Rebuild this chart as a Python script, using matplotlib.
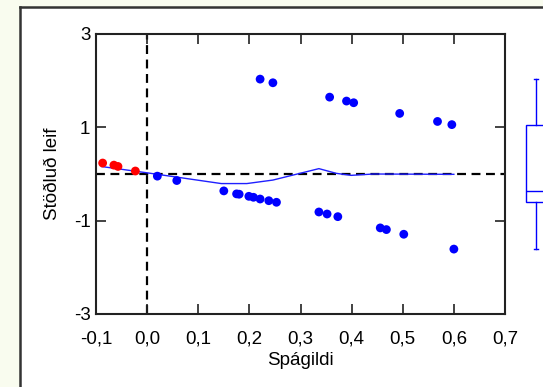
import numpy as np
import matplotlib
matplotlib.use('Agg')
import matplotlib.pyplot as plt
import matplotlib.transforms as mtransforms

plt.rcParams['font.family'] = ['Liberation Sans', 'DejaVu Sans']

# Fitted values and standardized residuals
red_x = [-0.087, -0.065, -0.057, -0.023]
red_y = [0.235, 0.19, 0.162, 0.064]

blue_x = [0.020, 0.058, 0.150, 0.175, 0.180, 0.199, 0.208, 0.221, 0.238, 0.253,
          0.336, 0.352, 0.373, 0.456, 0.468, 0.502, 0.600,
          0.221, 0.246, 0.357, 0.390, 0.404, 0.494, 0.568, 0.596]
blue_y = [-0.046, -0.140, -0.362, -0.426, -0.433, -0.478, -0.499, -0.536, -0.572, -0.606,
          -0.814, -0.857, -0.914, -1.155, -1.191, -1.291, -1.609,
          2.033, 1.955, 1.647, 1.563, 1.527, 1.298, 1.126, 1.058]

# smoother line
smooth_x = [-0.089, 0.0, 0.145, 0.195, 0.246, 0.336, 0.37, 0.399, 0.443, 0.600]
smooth_y = [0.16, 0.025, -0.205, -0.205, -0.13, 0.115, 0.014, -0.029, 0.0, -0.007]

xticks = [-0.1, 0.0, 0.1, 0.2, 0.3, 0.4, 0.5, 0.6, 0.7]
xtick_labels = ['-0,1', '0,0', '0,1', '0,2', '0,3', '0,4', '0,5', '0,6', '0,7']
yticks = [3, 1, -1, -3]
ytick_labels = ['3', '1', '-1', '-3']

W, H = 543, 387
fig = plt.figure(figsize=(W / 100, H / 100), dpi=100, facecolor='#F9FCEF')

# white panel with dark border (extends past right and bottom edges)
bg = fig.add_axes([20 / W, -0.05, 1.0, 1.05 - 7 / H], zorder=-1)
bg.set_xticks([])
bg.set_yticks([])
for s in bg.spines.values():
    s.set_linewidth(1.8)
    s.set_color('#333333')

ax = fig.add_axes([96 / W, 1 - 314 / H, (505 - 96) / W, (314 - 34) / H])

ax.axhline(0, color='black', ls=(0, (4, 2.5)), lw=1.6, zorder=1)
ax.axvline(0, color='black', ls=(0, (4, 2.5)), lw=1.6, zorder=1)
ax.plot(smooth_x, smooth_y, color='#2020FF', lw=1.0, zorder=2)
ax.scatter(red_x, red_y, s=40, color='#FF0000', edgecolors='none', zorder=3)
ax.scatter(blue_x, blue_y, s=40, color='#0000FF', edgecolors='none', zorder=3)

ax.set_xlim(-0.1, 0.7)
ax.set_ylim(-3, 3)
ax.set_xticks(xticks)
ax.set_xticklabels(xtick_labels)
ax.set_yticks(yticks)
ax.set_yticklabels(ytick_labels)
ax.tick_params(axis='x', direction='in', length=0, labelsize=13.5, pad=12)
ax.tick_params(axis='y', direction='in', length=0, labelsize=13.5, pad=4)

# inward tick marks on all four sides (about 10 px long)
tx = mtransforms.blended_transform_factory(ax.transData, ax.transAxes)
ty = mtransforms.blended_transform_factory(ax.transAxes, ax.transData)
ax.vlines(xticks, 0, 10 / 280, transform=tx, color='#222222', lw=1.2, zorder=4)
ax.vlines(xticks, 1 - 10 / 280, 1, transform=tx, color='#222222', lw=1.2, zorder=4)
ax.hlines(yticks, 0, 10 / 409, transform=ty, color='#222222', lw=1.2, zorder=4)
ax.hlines(yticks, 1 - 10 / 409, 1, transform=ty, color='#222222', lw=1.2, zorder=4)

for s in ax.spines.values():
    s.set_linewidth(1.5)
    s.set_color('#222222')
ax.set_xlabel('Spágildi', fontsize=13.5, labelpad=3)
ax.set_ylabel('Stöðluð leif', fontsize=13.5, labelpad=9)

# marginal boxplot of residuals
bx = fig.add_axes([516 / W, 1 - 314 / H, 40 / W, (314 - 34) / H])
bx.set_facecolor('none')
bx.boxplot(red_y + blue_y, positions=[0.5], widths=0.5, whis=(0, 100),
           patch_artist=True, showfliers=False,
           boxprops=dict(facecolor='white', edgecolor='#0000FF', lw=1),
           medianprops=dict(color='#0000FF', lw=1),
           whiskerprops=dict(color='#0000FF', lw=1),
           capprops=dict(color='#0000FF', lw=1), capwidths=0.12)
bx.set_xlim(0, 1)
bx.set_ylim(-3, 3)
bx.axis('off')

fig.savefig('out.png', dpi=100, facecolor=fig.get_facecolor())
